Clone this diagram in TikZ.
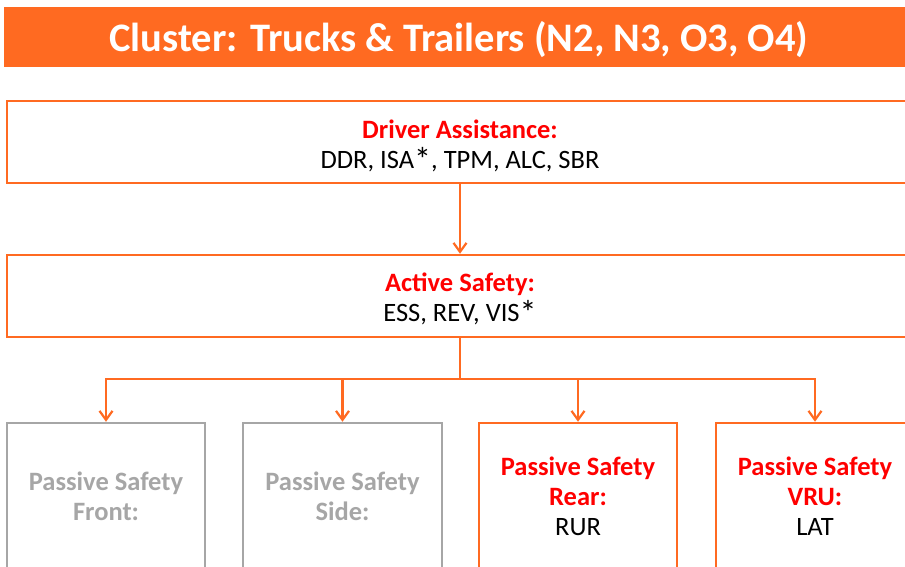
\documentclass[tikz,border=0pt]{standalone}
\usepackage{fontspec}
\setmainfont{Carlito}
\usetikzlibrary{arrows.meta}
\definecolor{orng}{HTML}{FF6A21}
\definecolor{redt}{HTML}{FF0000}
\definecolor{grayb}{HTML}{A6A6A6}
\definecolor{grayt}{HTML}{A6A6A6}
\newcommand{\bigast}{\raisebox{-3pt}{\fontsize{34}{30}\selectfont *}}
\tikzset{
  x=1pt, y=-1pt,
  bodyfont/.style={font=\fontsize{26.5}{30}\selectfont},
  obox/.style={draw=orng, line width=2.5pt, fill=white, align=center, bodyfont, inner sep=0pt},
  gbox/.style={draw=grayb, line width=2.5pt, fill=white, align=center, bodyfont, inner sep=0pt, text=grayt},
  conn/.style={draw=orng, line width=2.2pt, -{Straight Barb[length=9pt,width=13pt,line width=2.2pt]}},
  wire/.style={draw=orng, line width=2.2pt},
  titlebar/.style={fill=orng, text=white, font=\fontsize{40.5}{42}\selectfont\bfseries, inner sep=0pt, text height=30pt, text depth=0pt}
}
\begin{document}
\begin{tikzpicture}
\useasboundingbox (0,0) rectangle (905,567);
\clip (0,0) rectangle (905,567);
\fill[white] (0,0) rectangle (905,567);
\node[titlebar, minimum width=910pt, minimum height=60pt] (title) at (459,37) {Cluster: Trucks \& Trailers (N2, N3, O3, O4)};
\node[obox, minimum width=906pt, minimum height=82pt] (da) at (460,142) {\rule{0pt}{26pt}\textbf{\textcolor{redt}{Driver Assistance:}}\\DDR, ISA\bigast, TPM, ALC, SBR};
\node[obox, minimum width=906pt, minimum height=82pt] (as) at (460,296) {\rule{0pt}{24pt}\textbf{\textcolor{redt}{Active Safety:}}\\ESS, REV, VIS\bigast};
\node[gbox, minimum width=198pt, minimum height=146pt] (pf) at (106,496) {\textbf{Passive Safety}\\\textbf{Front:}};
\node[gbox, minimum width=199pt, minimum height=146pt] (ps) at (342.5,496) {\textbf{Passive Safety}\\\textbf{Side:}};
\node[obox, minimum width=198pt, minimum height=146pt] (pr) at (578,496) {\textbf{\textcolor{redt}{Passive Safety}}\\\textbf{\textcolor{redt}{Rear:}}\\RUR};
\node[obox, minimum width=198pt, minimum height=146pt] (pv) at (815,496) {\textbf{\textcolor{redt}{Passive Safety}}\\\textbf{\textcolor{redt}{VRU:}}\\LAT};
\coordinate (hub) at (460,379);
\draw[conn] (da.south) -- (as.north);
\draw[wire] (as.south) -- (hub);
\draw[conn] (hub) -| (pf.north);
\draw[conn] (hub) -| (ps.north);
\draw[conn] (hub) -| (pr.north);
\draw[conn] (hub) -| (pv.north);
\end{tikzpicture}
\end{document}
